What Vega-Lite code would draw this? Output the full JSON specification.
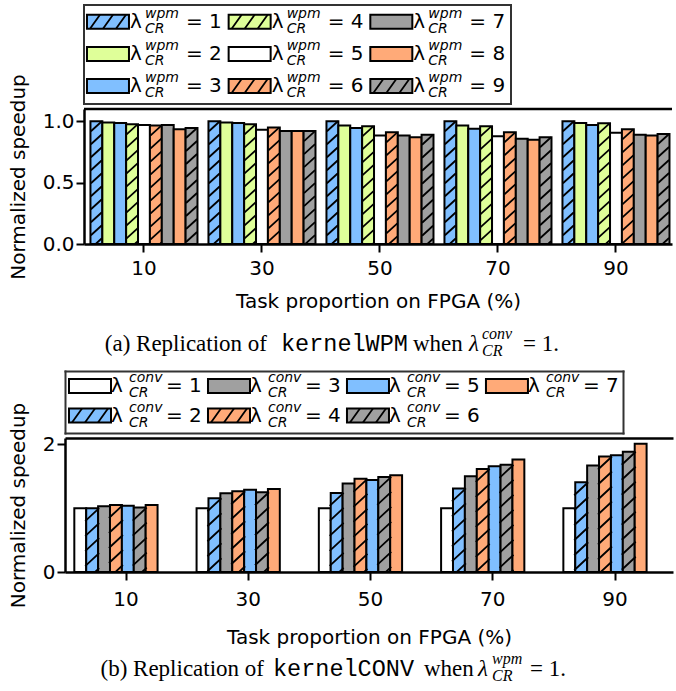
{
  "$schema": "https://vega.github.io/schema/vega-lite/v6.json",
  "background": "white",
  "padding": {"left": 8, "top": 4, "right": 0, "bottom": 0},
  "config": {
    "font": "DejaVu Sans",
    "view": {"stroke": null},
    "axis": {
      "domainColor": "black", "domainWidth": 2.5,
      "tickColor": "black", "tickWidth": 2, "tickSize": 8,
      "labelFont": "DejaVu Sans", "labelFontSize": 20, "labelColor": "black",
      "titleFont": "DejaVu Sans", "titleFontSize": 20, "titleFontWeight": "normal", "titleColor": "black",
      "grid": false, "labelOverlap": false, "labelFlush": false
    },
    "text": {"color": "black"}
  },
  "datasets": {
    "wpm": [
      {"p": 10, "s": 1, "v": 1.0}, {"p": 10, "s": 2, "v": 0.99}, {"p": 10, "s": 3, "v": 0.985}, {"p": 10, "s": 4, "v": 0.975}, {"p": 10, "s": 5, "v": 0.97}, {"p": 10, "s": 6, "v": 0.965}, {"p": 10, "s": 7, "v": 0.97}, {"p": 10, "s": 8, "v": 0.935}, {"p": 10, "s": 9, "v": 0.945},
      {"p": 30, "s": 1, "v": 1.0}, {"p": 30, "s": 2, "v": 0.99}, {"p": 30, "s": 3, "v": 0.985}, {"p": 30, "s": 4, "v": 0.975}, {"p": 30, "s": 5, "v": 0.93}, {"p": 30, "s": 6, "v": 0.95}, {"p": 30, "s": 7, "v": 0.92}, {"p": 30, "s": 8, "v": 0.92}, {"p": 30, "s": 9, "v": 0.92},
      {"p": 50, "s": 1, "v": 1.0}, {"p": 50, "s": 2, "v": 0.965}, {"p": 50, "s": 3, "v": 0.945}, {"p": 50, "s": 4, "v": 0.96}, {"p": 50, "s": 5, "v": 0.885}, {"p": 50, "s": 6, "v": 0.91}, {"p": 50, "s": 7, "v": 0.885}, {"p": 50, "s": 8, "v": 0.87}, {"p": 50, "s": 9, "v": 0.89},
      {"p": 70, "s": 1, "v": 1.0}, {"p": 70, "s": 2, "v": 0.965}, {"p": 70, "s": 3, "v": 0.94}, {"p": 70, "s": 4, "v": 0.96}, {"p": 70, "s": 5, "v": 0.877}, {"p": 70, "s": 6, "v": 0.91}, {"p": 70, "s": 7, "v": 0.858}, {"p": 70, "s": 8, "v": 0.85}, {"p": 70, "s": 9, "v": 0.87},
      {"p": 90, "s": 1, "v": 1.0}, {"p": 90, "s": 2, "v": 0.985}, {"p": 90, "s": 3, "v": 0.97}, {"p": 90, "s": 4, "v": 0.983}, {"p": 90, "s": 5, "v": 0.907}, {"p": 90, "s": 6, "v": 0.934}, {"p": 90, "s": 7, "v": 0.89}, {"p": 90, "s": 8, "v": 0.885}, {"p": 90, "s": 9, "v": 0.896}
    ],
    "conv": [
      {"p": 10, "s": 1, "v": 1.0}, {"p": 10, "s": 2, "v": 1.0}, {"p": 10, "s": 3, "v": 1.03}, {"p": 10, "s": 4, "v": 1.05}, {"p": 10, "s": 5, "v": 1.04}, {"p": 10, "s": 6, "v": 1.01}, {"p": 10, "s": 7, "v": 1.05},
      {"p": 30, "s": 1, "v": 1.0}, {"p": 30, "s": 2, "v": 1.156}, {"p": 30, "s": 3, "v": 1.234}, {"p": 30, "s": 4, "v": 1.266}, {"p": 30, "s": 5, "v": 1.29}, {"p": 30, "s": 6, "v": 1.25}, {"p": 30, "s": 7, "v": 1.3},
      {"p": 50, "s": 1, "v": 1.0}, {"p": 50, "s": 2, "v": 1.24}, {"p": 50, "s": 3, "v": 1.385}, {"p": 50, "s": 4, "v": 1.46}, {"p": 50, "s": 5, "v": 1.44}, {"p": 50, "s": 6, "v": 1.49}, {"p": 50, "s": 7, "v": 1.515},
      {"p": 70, "s": 1, "v": 1.0}, {"p": 70, "s": 2, "v": 1.31}, {"p": 70, "s": 3, "v": 1.5}, {"p": 70, "s": 4, "v": 1.615}, {"p": 70, "s": 5, "v": 1.656}, {"p": 70, "s": 6, "v": 1.68}, {"p": 70, "s": 7, "v": 1.765},
      {"p": 90, "s": 1, "v": 1.0}, {"p": 90, "s": 2, "v": 1.406}, {"p": 90, "s": 3, "v": 1.67}, {"p": 90, "s": 4, "v": 1.81}, {"p": 90, "s": 5, "v": 1.83}, {"p": 90, "s": 6, "v": 1.885}, {"p": 90, "s": 7, "v": 2.01}
    ],
    "legA": [
      {"s": 1, "col": 0, "row": 0, "t": "= 1"}, {"s": 2, "col": 0, "row": 1, "t": "= 2"}, {"s": 3, "col": 0, "row": 2, "t": "= 3"},
      {"s": 4, "col": 1, "row": 0, "t": "= 4"}, {"s": 5, "col": 1, "row": 1, "t": "= 5"}, {"s": 6, "col": 1, "row": 2, "t": "= 6"},
      {"s": 7, "col": 2, "row": 0, "t": "= 7"}, {"s": 8, "col": 2, "row": 1, "t": "= 8"}, {"s": 9, "col": 2, "row": 2, "t": "= 9"}
    ],
    "legB": [
      {"s": 1, "col": 0, "row": 0, "t": "= 1"}, {"s": 2, "col": 0, "row": 1, "t": "= 2"},
      {"s": 3, "col": 1, "row": 0, "t": "= 3"}, {"s": 4, "col": 1, "row": 1, "t": "= 4"},
      {"s": 5, "col": 2, "row": 0, "t": "= 5"}, {"s": 6, "col": 2, "row": 1, "t": "= 6"},
      {"s": 7, "col": 3, "row": 0, "t": "= 7"}
    ]
  },
  "columns": 1,
  "align": "each",
  "bounds": "flush",
  "spacing": 5,
  "resolve": {"scale": {"fill": "independent"}},
  "concat": [
    {
      "width": 427, "height": 99,
      "view": {"stroke": "#333333", "strokeWidth": 2, "fill": "white"},
      "data": {"name": "legA"},
      "encoding": {
        "x": {"field": "col", "type": "quantitative", "scale": {"domain": [-0.021, 2.993], "nice": false, "zero": false}, "axis": null},
        "y": {"field": "row", "type": "quantitative", "scale": {"domain": [-0.523, 2.561], "nice": false, "zero": false, "reverse": true}, "axis": null}
      },
      "layer": [
        {"mark": {"type": "point", "shape": "M0 -7H42V7H0Z", "size": 4, "filled": true, "opacity": 1, "stroke": "black", "strokeWidth": 2},
         "encoding": {"fill": {"field": "s", "type": "nominal", "scale": {"domain": [1,2,3,4,5,6,7,8,9], "range": ["#80bfff","#dfff99","#80bfff","#dfff99","#ffffff","#ffaa78","#a0a0a0","#ffaa78","#a0a0a0"]}, "legend": null}}},
        {"transform": [{"filter": {"field": "s", "oneOf": [1,4,6,9]}}],
         "mark": {"type": "point", "shape": "M3 7L13 -7M16 7L26 -7M29 7L39 -7", "size": 4, "filled": false, "opacity": 1, "stroke": "black", "strokeWidth": 1.8}},
        {"mark": {"type": "text", "text": "λ", "align": "left", "baseline": "alphabetic", "dx": 43, "dy": 6, "fontSize": 20}},
        {"mark": {"type": "text", "text": "wpm", "align": "left", "baseline": "alphabetic", "dx": 58, "dy": -4, "fontSize": 14, "fontStyle": "italic"}},
        {"mark": {"type": "text", "text": "CR", "align": "left", "baseline": "alphabetic", "dx": 58, "dy": 11, "fontSize": 14, "fontStyle": "italic"}},
        {"mark": {"type": "text", "align": "left", "baseline": "alphabetic", "dx": 99, "dy": 6, "fontSize": 20},
         "encoding": {"text": {"field": "t", "type": "nominal"}}}
      ]
    },
    {
      "width": 588, "height": 135,
      "data": {"name": "wpm"},
      "layer": [
        {
          "mark": {"type": "bar", "stroke": "black", "strokeWidth": 2},
          "encoding": {
            "x": {"field": "p", "type": "ordinal", "title": "Task proportion on FPGA (%)",
                  "scale": {"paddingInner": 0.093, "paddingOuter": 0.038, "align": 0.72},
                  "axis": {"labelAngle": 0, "bandPosition": 0.5, "labelPadding": 6, "titlePadding": 13}},
            "xOffset": {"field": "s", "type": "nominal", "scale": {"domain": [1,2,3,4,5,6,7,8,9], "paddingInner": 0, "paddingOuter": 0}},
            "y": {"field": "v", "type": "quantitative", "title": "Normalized speedup",
                  "scale": {"domain": [0, 1.1], "nice": false},
                  "axis": {"values": [0, 0.5, 1], "format": ".1f", "labelPadding": 2, "titlePadding": 14}},
            "fill": {"field": "s", "type": "nominal", "scale": {"domain": [1,2,3,4,5,6,7,8,9], "range": ["#80bfff","#dfff99","#80bfff","#dfff99","#ffffff","#ffaa78","#a0a0a0","#ffaa78","#a0a0a0"]}, "legend": null}
          }
        },
        {
          "transform": [{"filter": {"field": "s", "oneOf": [1,4,6,9]}}],
          "mark": {"type": "point", "clip": true, "shape": "M-5.5 10L5.5 0M-5.5 23L5.5 13M-5.5 36L5.5 26M-5.5 49L5.5 39M-5.5 62L5.5 52M-5.5 75L5.5 65M-5.5 88L5.5 78M-5.5 101L5.5 91M-5.5 114L5.5 104M-5.5 127L5.5 117M-5.5 140L5.5 130", "size": 4, "filled": false, "opacity": 1, "stroke": "black", "strokeWidth": 1.8},
          "encoding": {
            "x": {"field": "p", "type": "ordinal"},
            "xOffset": {"field": "s", "type": "nominal"},
            "y": {"field": "v", "type": "quantitative"}
          }
        },
        {
          "data": {"values": [{}]},
          "mark": {"type": "rule", "color": "black", "strokeWidth": 2.5},
          "encoding": {"y": {"datum": 1.1}}
        }
      ]
    },
    {
      "width": 502, "height": 117,
      "data": {"values": [{}]},
      "encoding": {
        "x": {"datum": 0.5, "type": "quantitative", "scale": {"domain": [0, 1]}, "axis": null},
        "y": {"datum": 0, "type": "quantitative", "scale": {"domain": [0, 1]}, "axis": null}
      },
      "layer": [
        {"mark": {"type": "text", "text": "(a) Replication of", "align": "right", "baseline": "alphabetic", "dx": -68, "dy": -15, "font": "Liberation Serif", "fontSize": 23}},
        {"mark": {"type": "text", "text": "kernelWPM", "align": "left", "baseline": "alphabetic", "dx": -54, "dy": -15, "font": "Liberation Mono", "fontSize": 23.5}},
        {"mark": {"type": "text", "text": "when", "align": "left", "baseline": "alphabetic", "dx": 78, "dy": -15, "font": "Liberation Serif", "fontSize": 23}},
        {"mark": {"type": "text", "text": "λ", "align": "left", "baseline": "alphabetic", "dx": 134, "dy": -15, "font": "Liberation Serif", "fontStyle": "italic", "fontSize": 23}},
        {"mark": {"type": "text", "text": "conv", "align": "left", "baseline": "alphabetic", "dx": 147, "dy": -27, "font": "Liberation Serif", "fontStyle": "italic", "fontSize": 16}},
        {"mark": {"type": "text", "text": "CR", "align": "left", "baseline": "alphabetic", "dx": 147, "dy": -10, "font": "Liberation Serif", "fontStyle": "italic", "fontSize": 16}},
        {"mark": {"type": "text", "text": "= 1.", "align": "left", "baseline": "alphabetic", "dx": 188, "dy": -15, "font": "Liberation Serif", "fontSize": 23}}
      ]
    },
    {
      "width": 539, "height": 62,
      "data": {"name": "legB"},
      "resolve": {"axis": {"x": "independent", "y": "independent"}},
      "encoding": {
        "x": {"field": "col", "type": "quantitative", "scale": {"domain": [-0.0288, 3.986], "range": [-19, 539], "nice": false, "zero": false}, "axis": null},
        "y": {"field": "row", "type": "quantitative", "scale": {"domain": [-0.508, 1.593], "nice": false, "zero": false, "reverse": true}, "axis": null}
      },
      "layer": [
        {"mark": {"type": "point", "shape": "M0 -7H42V7H0Z", "size": 4, "filled": true, "opacity": 1, "stroke": "black", "strokeWidth": 2},
         "encoding": {
           "x": {"field": "col", "type": "quantitative", "axis": {"orient": "bottom", "domain": true, "domainColor": "#333333", "domainWidth": 2, "domainCap": "square", "ticks": false, "labels": false, "title": null}},
           "y": {"field": "row", "type": "quantitative", "axis": {"orient": "left", "offset": 19, "domain": true, "domainColor": "#333333", "domainWidth": 2, "domainCap": "square", "ticks": false, "labels": false, "title": null}},
           "fill": {"field": "s", "type": "nominal", "scale": {"domain": [1,2,3,4,5,6,7], "range": ["#ffffff","#80bfff","#a0a0a0","#ffaa78","#80bfff","#a0a0a0","#ffaa78"]}, "legend": null}}},
        {"transform": [{"filter": {"field": "s", "oneOf": [2,4,6]}}],
         "mark": {"type": "point", "shape": "M3 7L13 -7M16 7L26 -7M29 7L39 -7", "size": 4, "filled": false, "opacity": 1, "stroke": "black", "strokeWidth": 1.8},
         "encoding": {
           "x": {"field": "col", "type": "quantitative", "axis": {"orient": "top", "domain": true, "domainColor": "#333333", "domainWidth": 2, "domainCap": "square", "ticks": false, "labels": false, "title": null}},
           "y": {"field": "row", "type": "quantitative", "axis": {"orient": "right", "domain": true, "domainColor": "#333333", "domainWidth": 2, "domainCap": "square", "ticks": false, "labels": false, "title": null}}}},
        {"mark": {"type": "text", "text": "λ", "align": "left", "baseline": "alphabetic", "dx": 42, "dy": 6, "fontSize": 20}},
        {"mark": {"type": "text", "text": "conv", "align": "left", "baseline": "alphabetic", "dx": 60, "dy": -4, "fontSize": 14, "fontStyle": "italic"}},
        {"mark": {"type": "text", "text": "CR", "align": "left", "baseline": "alphabetic", "dx": 60, "dy": 11, "fontSize": 14, "fontStyle": "italic"}},
        {"mark": {"type": "text", "align": "left", "baseline": "alphabetic", "dx": 97, "dy": 6, "fontSize": 20},
         "encoding": {"text": {"field": "t", "type": "nominal"}}}
      ]
    },
    {
      "width": 589, "height": 134,
      "data": {"name": "conv"},
      "resolve": {"axis": {"x": "independent"}},
      "layer": [
        {
          "mark": {"type": "bar", "stroke": "black", "strokeWidth": 2},
          "encoding": {
            "x": {"field": "p", "type": "ordinal", "title": "Task proportion on FPGA (%)",
                  "scale": {"range": [-19, 589], "paddingInner": 0.154, "paddingOuter": 0.0635, "align": 0.6},
                  "axis": {"labelAngle": 0, "bandPosition": 0.5, "labelPadding": 9, "titlePadding": 18}},
            "xOffset": {"field": "s", "type": "nominal", "scale": {"domain": [1,2,3,4,5,6,7], "paddingInner": 0, "paddingOuter": 0}},
            "y": {"field": "v", "type": "quantitative", "title": "Normalized speedup",
                  "scale": {"domain": [0, 2.1], "nice": false},
                  "axis": {"values": [0, 1, 2], "format": "d", "offset": 19, "labelPadding": 2, "titlePadding": 14}},
            "fill": {"field": "s", "type": "nominal", "scale": {"domain": [1,2,3,4,5,6,7], "range": ["#ffffff","#80bfff","#a0a0a0","#ffaa78","#80bfff","#a0a0a0","#ffaa78"]}, "legend": null}
          }
        },
        {
          "transform": [{"filter": {"field": "s", "oneOf": [2,4,6]}}],
          "mark": {"type": "point", "clip": true, "shape": "M-7 13L7 0M-7 28L7 15M-7 43L7 30M-7 58L7 45M-7 73L7 60M-7 88L7 75M-7 103L7 90M-7 118L7 105M-7 133L7 120M-7 148L7 135", "size": 4, "filled": false, "opacity": 1, "stroke": "black", "strokeWidth": 1.8},
          "encoding": {
            "x": {"field": "p", "type": "ordinal", "axis": {"orient": "top", "labels": false, "ticks": false, "title": null, "domain": true}},
            "xOffset": {"field": "s", "type": "nominal"},
            "y": {"field": "v", "type": "quantitative"}
          }
        }
      ]
    },
    {
      "width": 502, "height": 108,
      "data": {"values": [{}]},
      "encoding": {
        "x": {"datum": 0.5, "type": "quantitative", "scale": {"domain": [0, 1]}, "axis": null},
        "y": {"datum": 0, "type": "quantitative", "scale": {"domain": [0, 1]}, "axis": null}
      },
      "layer": [
        {"mark": {"type": "text", "text": "(b) Replication of", "align": "right", "baseline": "alphabetic", "dx": -71, "dy": -9, "font": "Liberation Serif", "fontSize": 23}},
        {"mark": {"type": "text", "text": "kernelCONV", "align": "left", "baseline": "alphabetic", "dx": -62, "dy": -9, "font": "Liberation Mono", "fontSize": 23.5}},
        {"mark": {"type": "text", "text": "when", "align": "left", "baseline": "alphabetic", "dx": 89, "dy": -9, "font": "Liberation Serif", "fontSize": 23}},
        {"mark": {"type": "text", "text": "λ", "align": "left", "baseline": "alphabetic", "dx": 143, "dy": -9, "font": "Liberation Serif", "fontStyle": "italic", "fontSize": 23}},
        {"mark": {"type": "text", "text": "wpm", "align": "left", "baseline": "alphabetic", "dx": 157, "dy": -21, "font": "Liberation Serif", "fontStyle": "italic", "fontSize": 16}},
        {"mark": {"type": "text", "text": "CR", "align": "left", "baseline": "alphabetic", "dx": 157, "dy": -4, "font": "Liberation Serif", "fontStyle": "italic", "fontSize": 16}},
        {"mark": {"type": "text", "text": "= 1.", "align": "left", "baseline": "alphabetic", "dx": 195, "dy": -9, "font": "Liberation Serif", "fontSize": 23}}
      ]
    }
  ]
}
